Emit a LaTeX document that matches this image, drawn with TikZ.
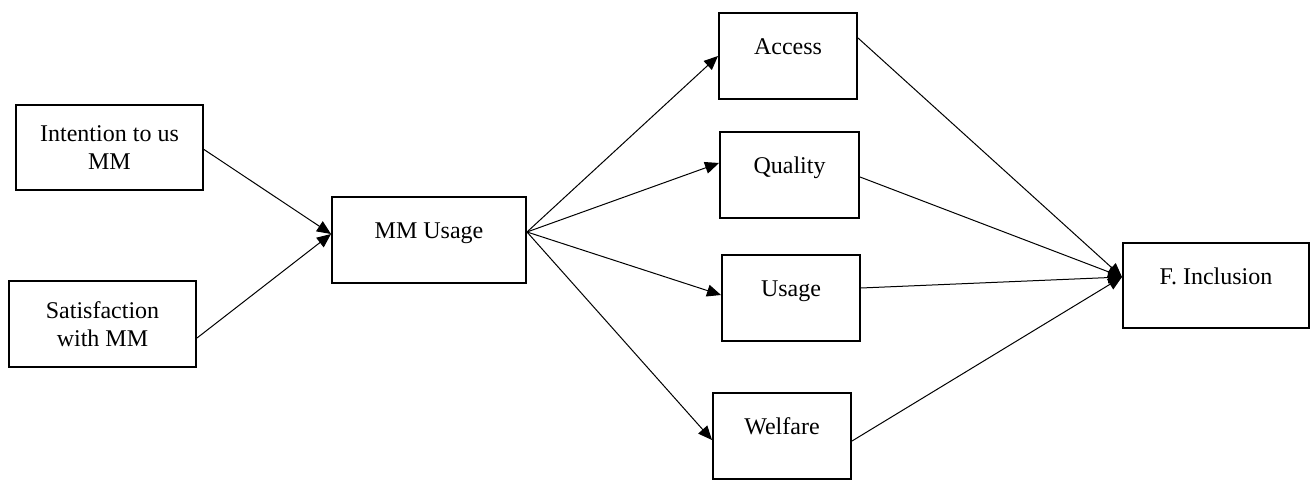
\documentclass[tikz,border=0pt]{standalone}
\usepackage{fontspec}
\setmainfont{Liberation Serif}
\usepackage{tikz}
\usetikzlibrary{arrows.meta, positioning, calc}
\tikzset{
  varnode/.style={rectangle, draw, line width=1pt, inner sep=0pt, font=\fontsize{12}{14}\selectfont},
  onenode/.style={varnode, text height=8pt, text depth=9pt},
  twonode/.style={varnode, align=center},
  parrow/.style={-{Triangle[length=7pt, width=6pt]}, line width=0.5pt},
}
\begin{document}
\begin{tikzpicture}[x=0.5pt, y=-0.5pt]
  \useasboundingbox (0,0) rectangle (1311,480);
  % antecedents
  \node[twonode, minimum width=93.5pt, minimum height=42.5pt] (int) at (109.5,147.5) {Intention to us\\MM};
  \node[twonode, minimum width=93.5pt, minimum height=43pt] (sat) at (102.5,324) {Satisfaction\\with MM};
  \node[onenode, minimum width=97pt, minimum height=43pt] (mm) at (429,240) {MM Usage};
  % dimensions
  \node[onenode, minimum width=69pt, minimum height=43pt] (acc) at (788,56) {Access};
  \node[onenode, minimum width=69.5pt, minimum height=43pt] (qual) at (789.5,175) {Quality};
  \node[onenode, minimum width=69pt, minimum height=43pt] (use) at (791,298) {Usage};
  \node[onenode, minimum width=69pt, minimum height=43pt] (wel) at (782,436) {Welfare};
  \node[onenode, minimum width=93pt, minimum height=42.5pt] (fin) at (1216,285.5) {F. Inclusion};
  % paths
  \draw[parrow] ([yshift=-1pt]int.east) -- ([yshift=3pt]mm.west);
  \draw[parrow] ([yshift=-7pt]sat.east) -- ([yshift=3pt]mm.west);
  \draw[parrow] ([yshift=4pt]mm.east) -- (acc.west);
  \draw[parrow] ([yshift=4pt]mm.east) -- ([yshift=6pt]qual.west);
  \draw[parrow] ([yshift=4pt]mm.east) -- ([yshift=1.5pt]use.west);
  \draw[parrow] ([yshift=4pt]mm.east) -- ([yshift=-2pt]wel.west);
  \draw[parrow] ([yshift=9pt]acc.east) -- ([yshift=4.25pt]fin.west);
  \draw[parrow] ([yshift=-1pt]qual.east) -- ([yshift=4.25pt]fin.west);
  \draw[parrow] ([yshift=5pt]use.east) -- ([yshift=4.25pt]fin.west);
  \draw[parrow] ([yshift=-2.5pt]wel.east) -- ([yshift=4.25pt]fin.west);
\end{tikzpicture}
\end{document}
